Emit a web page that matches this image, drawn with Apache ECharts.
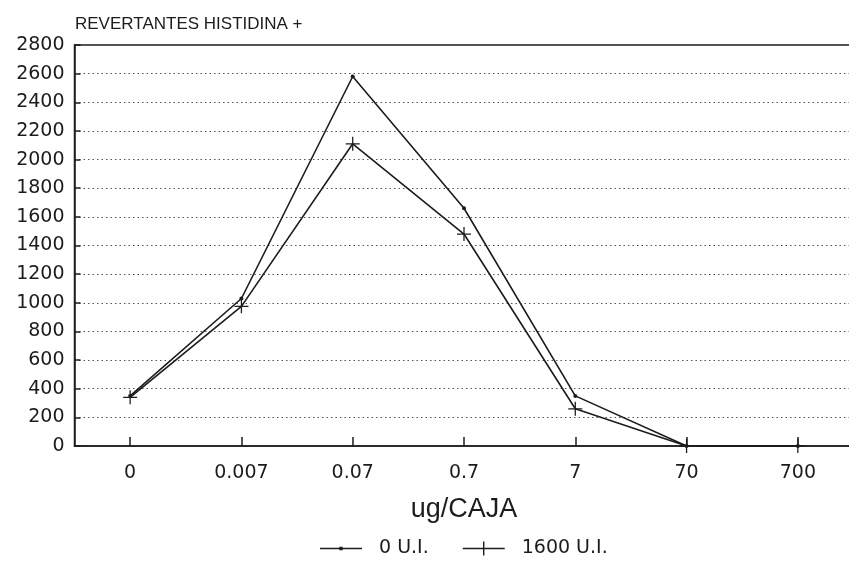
<!DOCTYPE html>
<html>
<head>
<meta charset="utf-8">
<script src="https://cdn.jsdelivr.net/npm/echarts@6/dist/echarts.min.js"></script>
<style>html,body{margin:0;padding:0;background:#fff}#c{width:849px;height:561px}</style>
</head>
<body>
<div id="c"></div>
<script>
const categories = ['0', '0.007', '0.07', '0.7', '7', '70', '700'];
const seriesNames = ['0 U.I.', '1600 U.I.'];
const values0UI = [350, 1030, 2580, 1660, 350, 0, 0];
const values1600UI = [340, 975, 2110, 1480, 260, 0, 0];
const yTicks = { min: 0, max: 2800, interval: 200 };
const yTitle = 'REVERTANTES HISTIDINA +';
const xTitle = 'ug/CAJA';

const ink = '#1c1c1c';
const numFont = '"DejaVu Sans", sans-serif';
const plusPath = 'path://M-1,-0.09H1V0.09H-1Z M-0.09,-1H0.09V1H-0.09Z';
const legendDotIcon = 'path://M0,6.3H42V7.7H0Z M19.3,5.3H22.7V8.7H19.3Z M20.995,0H21.005V14H20.995Z';
const legendPlusIcon = 'path://M0,6.3H42V7.7H0Z M20.3,0H21.7V14H20.3Z';

const chart = echarts.init(document.getElementById('c'), null, { renderer: 'canvas' });
chart.setOption({
  animation: false,
  backgroundColor: '#fff',
  title: {
    text: yTitle, left: 70, top: 11,
    textStyle: { fontFamily: 'Liberation Sans', fontSize: 17, fontWeight: 'normal', color: ink }
  },
  legend: {
    left: 315, top: 534, itemWidth: 42, itemHeight: 14, itemGap: 34,
    data: [
      { name: seriesNames[0], icon: legendDotIcon },
      { name: seriesNames[1], icon: legendPlusIcon }
    ],
    itemStyle: { color: ink, borderWidth: 0 },
    textStyle: { fontFamily: numFont, fontSize: 19, color: ink, padding: [0, 0, 0, 12] }
  },
  grid: { left: 74.5, width: 779, top: 45, height: 401, outerBoundsMode: 'none', containLabel: false, show: true, borderColor: ink, borderWidth: 1.5, backgroundColor: 'transparent' },
  xAxis: {
    type: 'category', data: categories, boundaryGap: true,
    name: xTitle, nameLocation: 'middle', nameGap: 50,
    nameTextStyle: { fontFamily: 'Liberation Sans', fontSize: 27, color: ink },
    axisLine: { show: true, lineStyle: { color: ink, width: 1.5 } },
    axisTick: { show: true, inside: true, alignWithLabel: true, length: 9, lineStyle: { color: ink, width: 1.5 } },
    axisLabel: { fontFamily: numFont, fontSize: 19, color: ink, margin: 18 },
    splitLine: { show: false }
  },
  yAxis: {
    type: 'value', min: yTicks.min, max: yTicks.max, interval: yTicks.interval,
    axisLine: { show: true, lineStyle: { color: ink, width: 1.5 } },
    axisTick: { show: true, inside: true, length: 6, lineStyle: { color: ink, width: 1.5 } },
    axisLabel: { fontFamily: numFont, fontSize: 19, color: ink, margin: 10, formatter: v => String(v) },
    splitLine: { show: true, lineStyle: { color: '#555', width: 1.2, type: [1.5, 3] } }
  },
  series: [
    {
      name: seriesNames[0], type: 'line', data: values0UI,
      symbol: 'circle', symbolSize: 4, showSymbol: true,
      lineStyle: { color: ink, width: 1.6 },
      itemStyle: { color: ink }
    },
    {
      name: seriesNames[1], type: 'line', data: values1600UI,
      symbol: plusPath, symbolSize: 14, showSymbol: true,
      lineStyle: { color: ink, width: 1.6 },
      itemStyle: { color: ink }
    }
  ]
});
</script>
</body>
</html>
